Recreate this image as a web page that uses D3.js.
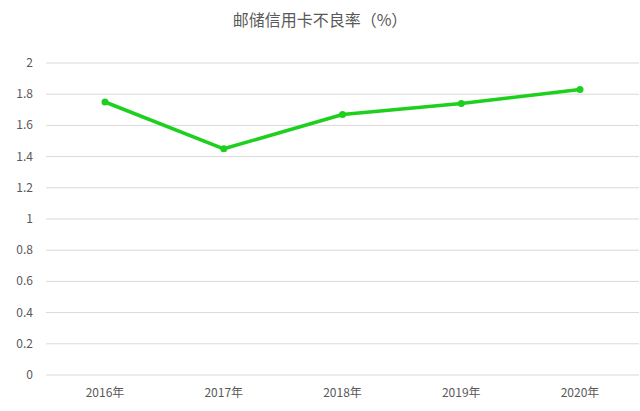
<!DOCTYPE html>
<html><head><meta charset="utf-8">
<script src="https://cdn.jsdelivr.net/npm/d3@7"></script>
<style>body{margin:0;background:#fff}</style></head>
<body><svg id="c" width="640" height="411"></svg>
<script>
const categories=["2016年","2017年","2018年","2019年","2020年"];
const values=[1.75,1.45,1.67,1.74,1.83];
const yTicks=[0,0.2,0.4,0.6,0.8,1,1.2,1.4,1.6,1.8,2];
const title="邮储信用卡不良率（%）";
const svg=d3.select("#c");
const font="'Noto Sans CJK SC','DejaVu Sans',sans-serif";
const x=d3.scalePoint().domain(categories).range([105,580]);
const y=d3.scaleLinear().domain([0,2]).range([375,63]);
svg.append("text").attr("x",320).attr("y",26).attr("text-anchor","middle")
 .attr("font-family",font).attr("font-size",16).attr("fill","#595959").text(title);
const g=svg.append("g");
yTicks.forEach(t=>{
 g.append("line").attr("x1",46).attr("x2",639).attr("y1",y(t)).attr("y2",y(t))
  .attr("stroke","#d9d9d9").attr("stroke-width",1);
 g.append("text").attr("x",33).attr("y",y(t)+4).attr("text-anchor","end")
  .attr("font-family",font).attr("font-size",12).attr("fill","#595959").text(t);
});
categories.forEach(c=>{
 g.append("text").attr("x",x(c)).attr("y",397).attr("text-anchor","middle")
  .attr("font-family",font).attr("font-size",12).attr("fill","#595959").text(c);
});
const line=d3.line().x((d,i)=>x(categories[i])).y(d=>y(d));
g.append("path").datum(values).attr("d",line).attr("fill","none")
 .attr("stroke","#1ed01e").attr("stroke-width",3.5).attr("stroke-linejoin","round");
g.selectAll("circle").data(values).join("circle")
 .attr("cx",(d,i)=>x(categories[i])).attr("cy",d=>y(d)).attr("r",3.5)
 .attr("fill","#1ed01e");
</script></body></html>
